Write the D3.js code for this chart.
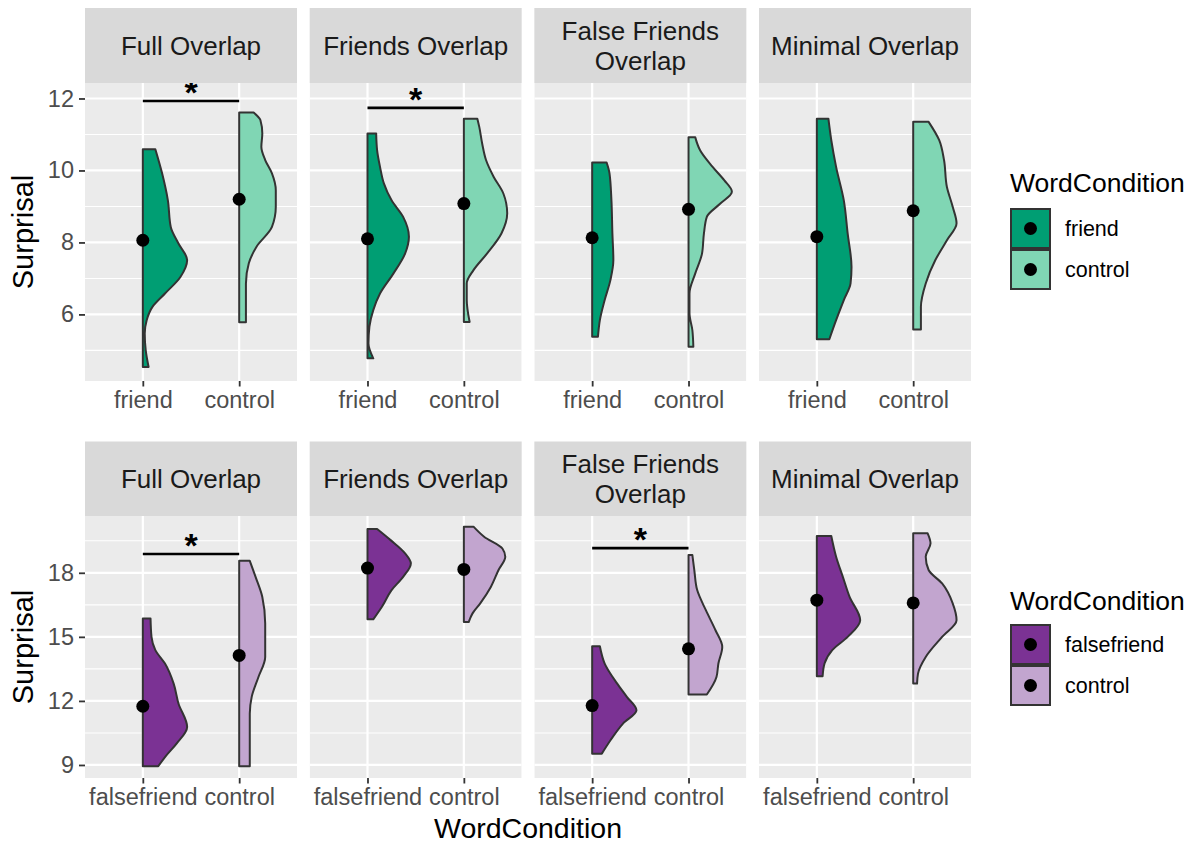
<!DOCTYPE html>
<html>
<head>
<meta charset="utf-8">
<script src="https://cdn.jsdelivr.net/npm/d3@7"></script>
<style>
  body { margin: 0; background: #ffffff; }
  svg { display: block; font-family: "Liberation Sans", Arial, Helvetica, sans-serif; }
</style>
</head>
<body>
<svg id="chart" width="1190" height="843"></svg>
<script>
// ---- data -------------------------------------------------------------
const facets = ["Full Overlap", "Friends Overlap", "False Friends\nOverlap", "Minimal Overlap"];
const conditionsTop = ["friend", "control"];
const conditionsBottom = ["falsefriend", "control"];
const yTicksTop = [6, 8, 10, 12];
const yTicksBottom = [9, 12, 15, 18];
const yMinorTop = [5, 7, 9, 11];
const yMinorBottom = [10.5, 13.5, 16.5, 19.5];

// mean surprisal per facet: [target word, control]
const meansTop = [[8.06, 9.20], [8.10, 9.08], [8.13, 8.92], [8.16, 8.88]];
const meansBottom = [[11.75, 14.13], [18.22, 18.16], [11.78, 14.44], [16.72, 16.59]];

// significant contrasts: facet index and bracket height
const sigTop = [{ facet: 0, value: 11.93 }, { facet: 1, value: 11.74 }];
const sigBottom = [{ facet: 0, value: 18.88 }, { facet: 2, value: 19.16 }];

// half-violin density outlines: [surprisal, half width in category units]
const densTopFriend = [
  [[10.59,0.13],[9.92,0.20],[9.17,0.26],[8.43,0.29],[7.97,0.37],[7.51,0.46],[7.04,0.39],[6.58,0.23],[6.21,0.10],[5.84,0.04],[5.47,0.02],[5.01,0.03],[4.54,0.06]],
  [[11.03,0.09],[10.56,0.10],[10.10,0.13],[9.64,0.17],[9.17,0.25],[8.71,0.37],[8.16,0.43],[7.69,0.39],[7.14,0.27],[6.58,0.13],[6.12,0.06],[5.66,0.02],[5.19,0.01],[4.78,0.06]],
  [[10.22,0.15],[9.92,0.18],[9.17,0.20],[8.25,0.21],[7.51,0.22],[6.96,0.19],[6.40,0.13],[5.84,0.08],[5.38,0.06]],
  [[11.44,0.12],[10.84,0.15],[10.10,0.20],[9.17,0.28],[8.25,0.32],[7.32,0.36],[6.86,0.35],[6.40,0.28],[5.84,0.20],[5.31,0.13]]
];
const densTopControl = [
  [[11.61,0.15],[11.40,0.22],[11.03,0.24],[10.66,0.23],[10.29,0.27],[9.92,0.34],[9.45,0.38],[8.99,0.38],[8.43,0.34],[7.88,0.18],[7.42,0.10],[6.86,0.07],[6.21,0.07],[5.78,0.07]],
  [[11.44,0.14],[11.21,0.16],[10.75,0.19],[10.29,0.23],[9.82,0.31],[9.36,0.41],[8.81,0.45],[8.25,0.39],[7.69,0.24],[7.23,0.10],[6.86,0.03],[6.40,0.03],[5.79,0.06]],
  [[10.92,0.07],[10.56,0.12],[10.10,0.25],[9.73,0.37],[9.41,0.45],[9.08,0.33],[8.71,0.19],[8.25,0.16],[7.69,0.14],[7.14,0.07],[6.58,0.01],[6.03,0.01],[5.56,0.04],[5.10,0.05]],
  [[11.35,0.16],[10.84,0.27],[10.29,0.32],[9.54,0.35],[8.99,0.41],[8.53,0.45],[8.06,0.35],[7.51,0.23],[6.86,0.13],[6.21,0.08],[5.58,0.08]]
];
const densBottomFalse = [
  [[15.86,0.08],[15.00,0.09],[14.38,0.13],[13.75,0.23],[12.81,0.32],[11.88,0.37],[10.78,0.46],[10.00,0.35],[9.37,0.23],[8.94,0.16]],
  [[20.05,0.10],[19.53,0.24],[18.91,0.39],[18.44,0.45],[17.81,0.37],[17.19,0.25],[16.41,0.15],[15.82,0.06]],
  [[14.56,0.08],[13.75,0.13],[12.81,0.26],[12.19,0.36],[11.56,0.46],[10.94,0.32],[10.16,0.19],[9.53,0.10]],
  [[19.72,0.15],[18.75,0.20],[17.81,0.27],[16.87,0.34],[15.78,0.45],[15.00,0.32],[14.38,0.16],[13.75,0.08],[13.16,0.06]]
];
const densBottomControl = [
  [[18.56,0.11],[17.81,0.17],[16.87,0.24],[15.63,0.27],[14.06,0.27],[13.12,0.20],[12.19,0.13],[11.41,0.11],[10.31,0.11],[8.94,0.11]],
  [[20.16,0.10],[19.69,0.21],[19.14,0.40],[18.75,0.43],[18.13,0.36],[17.34,0.28],[16.57,0.17],[16.10,0.09],[15.69,0.05]],
  [[18.83,0.04],[18.13,0.06],[17.19,0.09],[16.25,0.18],[15.31,0.28],[14.53,0.35],[13.75,0.31],[13.12,0.29],[12.30,0.19]],
  [[19.85,0.15],[19.38,0.18],[18.75,0.13],[18.13,0.16],[17.50,0.30],[16.57,0.41],[15.78,0.45],[15.00,0.30],[14.06,0.13],[13.28,0.05],[12.81,0.04]]
];

const colorsTop = ["#009E73", "#80D6B4"];
const colorsBottom = ["#7B3294", "#C2A5CF"];

// ---- layout -----------------------------------------------------------
const svg = d3.select("#chart");
const panelX0 = 85, panelW = 212, panelGap = 12.67;
const rows = [
  { stripTop: 8, panelTop: 83, panelBottom: 381, domain: [4.15, 12.43],
    ticks: yTicksTop, minor: yMinorTop, conds: conditionsTop, means: meansTop,
    dens: [densTopFriend, densTopControl], colors: colorsTop, sig: sigTop,
    legendTitleY: 192, legendKeyY: 209 },
  { stripTop: 441.5, panelTop: 516, panelBottom: 778, domain: [8.39, 20.66],
    ticks: yTicksBottom, minor: yMinorBottom, conds: conditionsBottom, means: meansBottom,
    dens: [densBottomFalse, densBottomControl], colors: colorsBottom, sig: sigBottom,
    legendTitleY: 610, legendKeyY: 625 }
];

const defs = svg.append("defs");

rows.forEach((row, ri) => {
  const y = d3.scaleLinear().domain(row.domain).range([row.panelBottom, row.panelTop]);

  facets.forEach((facet, fi) => {
    const left = panelX0 + fi * (panelW + panelGap);
    const x = d3.scalePoint().domain(row.conds).range([left, left + panelW]).padding(0.6);
    const step = x(row.conds[1]) - x(row.conds[0]);
    const w = d3.scaleLinear().domain([0, 1]).range([0, step]);

    // strip
    svg.append("rect").attr("x", left).attr("y", row.stripTop)
      .attr("width", panelW).attr("height", row.panelTop - row.stripTop).attr("fill", "#D9D9D9");
    const lines = facet.split("\n");
    const stripMid = (row.stripTop + row.panelTop) / 2;
    lines.forEach((ln, li) => {
      svg.append("text")
        .attr("x", left + panelW / 2)
        .attr("y", stripMid + 9.5 + (li - (lines.length - 1) / 2) * 30)
        .attr("text-anchor", "middle").attr("font-size", 26).attr("fill", "#1A1A1A")
        .text(ln);
    });

    // panel background + grid
    const clipId = `clip-${ri}-${fi}`;
    defs.append("clipPath").attr("id", clipId).append("rect")
      .attr("x", left).attr("y", row.panelTop).attr("width", panelW)
      .attr("height", row.panelBottom - row.panelTop);
    const g = svg.append("g").attr("clip-path", `url(#${clipId})`);
    g.append("rect").attr("x", left).attr("y", row.panelTop)
      .attr("width", panelW).attr("height", row.panelBottom - row.panelTop).attr("fill", "#EBEBEB");
    g.selectAll(".minor").data(row.minor).join("line")
      .attr("x1", left).attr("x2", left + panelW)
      .attr("y1", d => y(d)).attr("y2", d => y(d))
      .attr("stroke", "#FFFFFF").attr("stroke-width", 1.1);
    g.selectAll(".major").data(row.ticks).join("line")
      .attr("x1", left).attr("x2", left + panelW)
      .attr("y1", d => y(d)).attr("y2", d => y(d))
      .attr("stroke", "#FFFFFF").attr("stroke-width", 2.2);
    g.selectAll(".vmajor").data(row.conds).join("line")
      .attr("x1", d => x(d)).attr("x2", d => x(d))
      .attr("y1", row.panelTop).attr("y2", row.panelBottom)
      .attr("stroke", "#FFFFFF").attr("stroke-width", 2.2);

    // half violins
    row.conds.forEach((c, ci) => {
      const cx = x(c);
      const area = d3.area()
        .y(d => y(d[0]))
        .x0(cx)
        .x1(d => cx + w(d[1]))
        .curve(d3.curveMonotoneY);
      g.append("path").datum(row.dens[ci][fi])
        .attr("d", area)
        .attr("fill", row.colors[ci])
        .attr("stroke", "#333333").attr("stroke-width", 2)
        .attr("stroke-linejoin", "round");
    });

    // mean points
    g.selectAll(".mean").data(row.conds).join("circle")
      .attr("cx", d => x(d)).attr("cy", (d, i) => y(row.means[fi][i]))
      .attr("r", 6.5).attr("fill", "#000000");

    // significance brackets
    row.sig.filter(s => s.facet === fi).forEach(s => {
      g.append("line")
        .attr("x1", x(row.conds[0])).attr("x2", x(row.conds[1]))
        .attr("y1", y(s.value)).attr("y2", y(s.value))
        .attr("stroke", "#000000").attr("stroke-width", 2.7);
      g.append("text")
        .attr("x", (x(row.conds[0]) + x(row.conds[1])) / 2)
        .attr("y", y(s.value) + 3)
        .attr("text-anchor", "middle").attr("font-size", 34).attr("font-weight", "bold")
        .attr("fill", "#000000")
        .text("*");
    });

    // x axis
    const xAxis = d3.axisBottom(x).tickSize(5.5).tickPadding(5);
    const xg = svg.append("g").attr("transform", `translate(0,${row.panelBottom})`).call(xAxis);
    xg.select(".domain").remove();
    xg.selectAll(".tick line").attr("stroke", "#333333").attr("stroke-width", 1.8);
    xg.selectAll(".tick text").attr("font-size", 23.5).attr("fill", "#4D4D4D")
      .attr("font-family", "Liberation Sans, Arial, sans-serif");

    // y axis on first column
    if (fi === 0) {
      const yAxis = d3.axisLeft(y).tickValues(row.ticks).tickSize(6).tickPadding(5);
      const yg = svg.append("g").attr("transform", `translate(${left},0)`).call(yAxis);
      yg.select(".domain").remove();
      yg.selectAll(".tick line").attr("stroke", "#333333").attr("stroke-width", 1.8);
      yg.selectAll(".tick text").attr("font-size", 23.5).attr("fill", "#4D4D4D")
        .attr("font-family", "Liberation Sans, Arial, sans-serif");
    }
  });

  // y title
  const midY = (row.panelTop + row.panelBottom) / 2;
  svg.append("text")
    .attr("transform", `translate(33,${midY}) rotate(-90)`)
    .attr("text-anchor", "middle").attr("font-size", 29).attr("fill", "#000000")
    .text("Surprisal");

  // legend
  const lg = svg.append("g");
  lg.append("text").attr("x", 1010).attr("y", row.legendTitleY)
    .attr("font-size", 26.5).attr("fill", "#000000").text("WordCondition");
  row.conds.forEach((c, ci) => {
    const ky = row.legendKeyY + ci * 41;
    lg.append("rect").attr("x", 1011).attr("y", ky).attr("width", 39).attr("height", 39)
      .attr("fill", row.colors[ci]).attr("stroke", "#333333").attr("stroke-width", 2);
    lg.append("circle").attr("cx", 1030.5).attr("cy", ky + 19.5).attr("r", 6.5).attr("fill", "#000000");
    lg.append("text").attr("x", 1065).attr("y", ky + 19.5 + 7.7)
      .attr("font-size", 21.5).attr("fill", "#000000").text(c);
  });
});

// x title
svg.append("text").attr("x", panelX0 + (4 * panelW + 3 * panelGap) / 2).attr("y", 838)
  .attr("text-anchor", "middle").attr("font-size", 28.5).attr("fill", "#000000")
  .text("WordCondition");
</script>
</body>
</html>
